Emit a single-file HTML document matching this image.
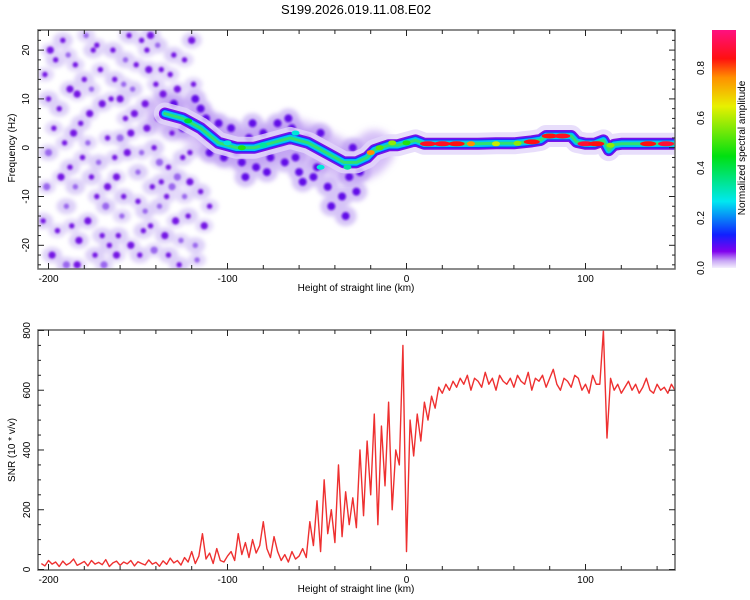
<!DOCTYPE html>
<html><head><meta charset="utf-8"><style>
html,body{margin:0;padding:0;background:#fff;}
svg{display:block;font-family:"Liberation Sans",sans-serif;}
</style></head><body>
<svg id="chart" width="750" height="600" viewBox="0 0 750 600">
<defs>
<filter id="blur1" x="-50%" y="-50%" width="200%" height="200%"><feGaussianBlur stdDeviation="1"/></filter>
<filter id="blur2" x="-50%" y="-50%" width="200%" height="200%"><feGaussianBlur stdDeviation="2"/></filter>
<filter id="blur3" x="-20%" y="-50%" width="140%" height="200%"><feGaussianBlur stdDeviation="4"/></filter>
<linearGradient id="cbar" x1="0" y1="1" x2="0" y2="0">
<stop offset="0" stop-color="#f4effd"/><stop offset="0.03" stop-color="#c9a8f5"/><stop offset="0.07" stop-color="#8000ee"/>
<stop offset="0.14" stop-color="#1020ff"/><stop offset="0.28" stop-color="#00e8f0"/><stop offset="0.47" stop-color="#00e010"/>
<stop offset="0.68" stop-color="#e8f000"/><stop offset="0.8" stop-color="#ff9000"/><stop offset="0.88" stop-color="#ff1010"/>
<stop offset="1" stop-color="#ff1080"/>
</linearGradient>
<clipPath id="clipTop"><rect x="38" y="30" width="637" height="239"/></clipPath>
<clipPath id="clipBot"><rect x="38" y="330" width="637" height="240"/></clipPath>
</defs>
<text x="356" y="14" font-size="13" text-anchor="middle">S199.2026.019.11.08.E02</text>
<g id="topPanel"></g>
<g id="botPanel"></g>
<g id="cbPanel"></g>
</svg>
<script>
// ---- data ----
const noiseX = [-200,-196,-192,-188,-185,-182,-178,-175,-172,-170,-166,-163,-160,-158,-155,-152,-150,-147,-144,-141,-138,-136,-133,-130,-128,-125,-122,-120,-118,-115,-198,-194,-190,-186,-180,-176,-168,-164,-161,-156,-153,-149,-145,-142,-139,-135,-131,-127,-190,-200,-174,-160,-146,-137,-183,-170,-157,-143,-203,-188];
const noiseF = [-1,18,22,12,-8,5,-15,20,-3,9,-20,14,2,-10,23,7,-5,-17,16,0,-12,11,-22,19,-6,-2,-14,22,-20,-9,-22,8,-12,3,14,-6,-12,20,-18,-1,12,-22,4,-8,21,-18,3,-24,-24,10,-22,10,-13,-7,-19,-18,18,23,-15,-4];
const noise2X = [-202,-197,-193,-189,-187,-184,-181,-179,-177,-173,-171,-169,-167,-165,-162,-159,-157,-154,-151,-148,-146,-143,-140,-138,-134,-132,-129,-126,-124,-121,-119,-117,-113,-112,-110,-201,-195,-191,-184,-178,-173,-167,-163,-158,-154,-150,-145,-141,-137,-133,-128,-124,-121,-199,-185,-176,-162,-148,-139,-131];
const noise2F = [15,4,-6,19,-16,11,-2,23,7,-10,16,-24,2,10,-6,-14,6,-20,17,-1,9,-16,13,-3,-10,15,-15,-19,18,-7,13,-23,-16,2,-12,-8,-17,1,-24,1,21,-8,-2,13,3,-11,20,-21,16,-4,12,-10,-1,20,17,12,-22,22,6,-8];
const midX = [-118,-112,-108,-102,-98,-92,-88,-84,-80,-76,-72,-68,-64,-60,-56,-52,-48,-44,-40,-36,-32,-30,-26,-62,-50,-70,-95,-105,-115,-125,-130,-110,-90,-78,-58,-42,-34,-28,-86,-66];
const midF = [10,6,3,-2,4,-3,2,-4,3,-2,5,-3,4,-5,2,-6,3,-8,-2,-10,-6,0,-5,-2,-4,1,-1,5,8,4,9,-1,-6,-5,-7,-12,-14,-9,5,6];
const ridgeX = [-135,-125,-115,-105,-95,-85,-75,-65,-55,-45,-35,-28,-22,-18,-10,-5,0,5,10,20,30,40,50,60,70,75,78,92,95,100,105,110,113,116,120,130,140,150];
const ridgeF = [7,6,4,1,0,0,1,2,1,-1,-3,-3,-2,-0.5,0.5,0.5,1,1.5,0.8,0.8,0.8,0.8,0.9,0.9,1.3,1.6,2.4,2.4,1.2,0.8,0.8,1.5,-0.5,0.6,0.8,0.8,0.8,0.8];
const hotX = [-122,-100,-92,-80,-62,-48,-33,-20,-15,-8,0,12,20,28,36,50,62,70,80,87,100,106,114,135,145];
const hotF = [5.5,1,0,0.5,3,-4,-4,-1,0,1,1,0.8,0.8,0.8,0.8,0.8,0.9,1.2,2.4,2.4,0.8,0.8,0.5,0.8,0.8];
const hotA = [0.45,0.3,0.5,0.35,0.3,0.3,0.35,0.8,0.55,0.6,0.5,0.9,0.9,0.88,0.8,0.65,0.6,0.88,0.88,0.9,0.92,0.88,0.6,0.88,0.92];
const snrX0 = -204, snrStep = 2;
const snrVals = [20,12,30,18,25,10,28,15,22,35,14,20,27,12,30,18,24,16,33,10,22,28,14,25,19,30,12,26,20,15,32,18,24,11,29,17,38,22,30,15,
40,25,60,20,45,120,35,55,20,70,30,25,45,
60,30,120,50,90,40,100,55,80,160,70,40,110,60,30,50,25,60,35,45,
70,40,160,80,230,60,300,120,200,90,350,110,260,150,240,
140,400,180,430,250,520,150,480,280,560,200,400,350,750,
60,500,380,520,430,560,500,580,540,610,590,620,600,
630,610,640,620,650,600,640,630,610,660,620,640,600,650,630,620,640,610,650,630,620,660,600,640,630,650,610,640,670,620,600,640,630,610,650,640,600,620,590,650,620,620,800,440,640,600,620,590,610,630,600,620,590,610,640,600,590,620,600,610,590,620,600,590];
const xTicks = [-200,-100,0,100];
const fTicks = [-20,-10,0,10,20];
const snrTicks = [0,200,400,600,800];
const cbTicks = [0,0.2,0.4,0.6,0.8];

// ---- scales ----
const X = k => 406.5 + k*1.79;
const F = f => 147.7 - f*4.88;
const S = v => 569.5 - v*0.2988;
const NS = 'http://www.w3.org/2000/svg';
function mk(tag, attrs, parent){const e=document.createElementNS(NS,tag);for(const k in attrs)e.setAttribute(k,attrs[k]);parent.appendChild(e);return e;}
function cmap(a){
  const st=[[0,[244,239,253]],[0.03,[201,168,245]],[0.07,[128,0,238]],[0.14,[16,32,255]],[0.28,[0,232,240]],[0.47,[0,224,16]],[0.68,[232,240,0]],[0.8,[255,144,0]],[0.88,[255,16,16]],[1,[255,16,128]]];
  for(let i=1;i<st.length;i++){if(a<=st[i][0]){const t=(a-st[i-1][0])/(st[i][0]-st[i-1][0]);const c=st[i-1][1].map((v,j)=>Math.round(v+(st[i][1][j]-v)*t));return `rgb(${c})`;}}
  return 'rgb(255,16,128)';
}
const topG=document.getElementById('topPanel'), botG=document.getElementById('botPanel'), cbG=document.getElementById('cbPanel');

// ---- spectrogram ----
const tg=mk('g',{'clip-path':'url(#clipTop)'},topG);
const haloG=mk('g',{filter:'url(#blur2)'},tg);
function halo(xs,fs,rx,ry,fill,name){
  xs.forEach((x,i)=>{
    const e=mk('ellipse',{cx:X(x),cy:F(fs[i]),rx:rx,ry:ry,fill:fill},haloG);
    
    
  });
}
halo(noiseX,noiseF,10,8,'#ddd0f8','noise-halo');
halo(noise2X,noise2F,9,7,'#e2d7f9','noise-halo');
halo(midX,midF,11,10,'#d6c4f7','mid-halo');
// wide diffuse band around the left ridge
const leftN = ridgeX.filter(x=>x<=-18).length;
const leftPts = ridgeX.slice(0,leftN).map((x,i)=>X(x)+','+F(ridgeF[i])).join(' ');
const band=mk('polyline',{points:leftPts,fill:'none',stroke:'#b48cf0','stroke-width':40,opacity:0.55,'stroke-linejoin':'round','stroke-linecap':'round',filter:'url(#blur3)'},tg);


const blobG=mk('g',{filter:'url(#blur1)'},tg);
function blobs(xs,fs,name,base){
  xs.forEach((x,i)=>{
    const e=mk('circle',{cx:X(x),cy:F(fs[i]),r:((i+base)%3===0)?3.6:2.7,fill:((i+base)%4===0)?'#9a66ee':'#7418e4'},blobG);
    
    
  });
}
blobs(noiseX,noiseF,'noise-blob',0);
blobs(noise2X,noise2F,'noise-blob',1);
midX.forEach((x,i)=>{
  const e=mk('circle',{cx:X(x),cy:F(midF[i]),r:4,fill:'#6210e8'},blobG);
  
  
});
const pts=ridgeX.map((x,i)=>X(x)+','+F(ridgeF[i])).join(' ');
const rg=mk('g',{fill:'none','stroke-linejoin':'round','stroke-linecap':'round'},tg);
[[22,'#e2d6fa',0.8],[12,'#7a10e8',1],[9,'#2030ff',1],[6.5,'#00c8f0',1],[3,'#30e070',1]].forEach(([w,c,o])=>{
  const p=mk('polyline',{points:pts,stroke:c,'stroke-width':w,opacity:o},rg);
  
  
});
hotX.forEach((x,i)=>{
  const e=mk('ellipse',{cx:X(x),cy:F(hotF[i]),rx:hotA[i]>0.8?8:4,ry:2.5,fill:cmap(hotA[i])},tg);
  
  
});

// ---- SNR line ----
const bg=mk('g',{'clip-path':'url(#clipBot)'},botG);
const sp=snrVals.map((v,i)=>X(snrX0+i*snrStep)+','+S(v)).join(' ');
const line=mk('polyline',{points:sp,fill:'none',stroke:'#ee3030','stroke-width':1.4,'stroke-linejoin':'round'},bg);



// ---- axes ----
function frame(g,y0,y1){
  const r=mk('rect',{x:38,y:y0,width:637,height:y1-y0,fill:'none',stroke:'#666','stroke-width':1.5},g);
  
  
  for(let k=-200;k<=140;k+=20){
    const len=(k%100===0)?6:4;
    mk('line',{x1:X(k),x2:X(k),y1:y0,y2:y0+len,stroke:'#222'},g);
    mk('line',{x1:X(k),x2:X(k),y1:y1,y2:y1-len,stroke:'#222'},g);
  }
  xTicks.forEach(k=>{
    const t=mk('text',{x:X(k),y:y1+13,'font-size':10,'text-anchor':'middle'},g);
    t.textContent=k;
    
    
  });
  const xl=mk('text',{x:356,y:y1+22,'font-size':10,'text-anchor':'middle'},g);
  xl.textContent='Height of straight line (km)';
  
  
}
frame(topG,30,269);
frame(botG,330,570);
for(let f=-24;f<=24;f+=2){
  const len=(f%10===0)?6:3;
  mk('line',{x1:38,x2:38+len,y1:F(f),y2:F(f),stroke:'#222'},topG);
  mk('line',{x1:675,x2:675-len,y1:F(f),y2:F(f),stroke:'#222'},topG);
}
fTicks.forEach(f=>{
  const t=mk('text',{x:0,y:0,'font-size':10,'text-anchor':'middle',transform:`translate(29,${F(f)}) rotate(-90)`},topG);
  t.textContent=f;
  
  
});
const yl1=mk('text',{x:0,y:0,'font-size':10,'text-anchor':'middle',transform:'translate(15,148) rotate(-90)'},topG);
yl1.textContent='Frequency (Hz)';


for(let v=0;v<=800;v+=50){
  const len=(v%200===0)?6:3;
  mk('line',{x1:38,x2:38+len,y1:S(v),y2:S(v),stroke:'#222'},botG);
  mk('line',{x1:675,x2:675-len,y1:S(v),y2:S(v),stroke:'#222'},botG);
}
snrTicks.forEach(v=>{
  const t=mk('text',{x:0,y:0,'font-size':10,'text-anchor':'middle',transform:`translate(30,${S(v)}) rotate(-90)`},botG);
  t.textContent=v;
  
  
});
const yl2=mk('text',{x:0,y:0,'font-size':10,'text-anchor':'middle',transform:'translate(15,450) rotate(-90)'},botG);
yl2.textContent='SNR (10 * v/v)';



// ---- colorbar ----
const C=a=>268-a*250;
const cr=mk('rect',{x:712,y:30,width:24,height:238,fill:'url(#cbar)'},cbG);


cbTicks.forEach(a=>{
  const t=mk('text',{x:0,y:0,'font-size':10,'text-anchor':'middle',transform:`translate(704,${C(a)}) rotate(-90)`},cbG);
  t.textContent=a.toFixed(1);
  
  
});
const ct=mk('text',{x:0,y:0,'font-size':10,'text-anchor':'middle',transform:'translate(745,148) rotate(-90)'},cbG);
ct.textContent='Normalized spectral amplitude';


</script>
</body></html>
